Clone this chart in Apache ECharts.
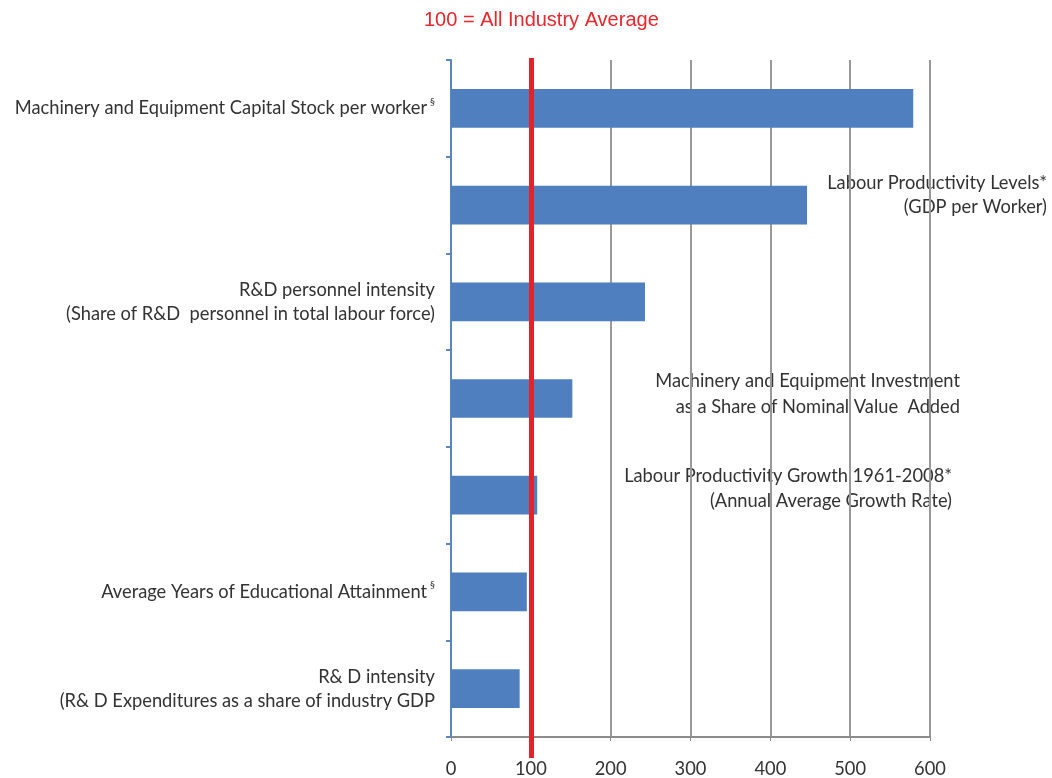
<!DOCTYPE html>
<html>
<head>
<meta charset="utf-8">
<script src="https://cdn.jsdelivr.net/npm/echarts@6/dist/echarts.min.js"></script>
<style>
  html, body { margin: 0; padding: 0; background: #fff; }
  #main { width: 1052px; height: 778px; }
</style>
</head>
<body>
<div id="main"></div>
<script>
const categories = [
  'Machinery and Equipment Capital Stock per worker',
  'Labour Productivity Levels',
  'R&D personnel intensity',
  'Machinery and Equipment Investment',
  'Labour Productivity Growth',
  'Average Years of Educational Attainment',
  'R&D intensity'
];
const values = [579, 446, 243, 152, 108, 95, 86];
const xTicks = [0, 100, 200, 300, 400, 500, 600];
const averageLine = 100;

// labels drawn left of the axis (empty = label sits inside the plot)
const leftLabels = [
  'Machinery and Equipment Capital Stock per worker{sup|§}',
  '',
  'R&D personnel intensity\n(Share of R&D  personnel in total labour force)',
  '',
  '',
  'Average Years of Educational Attainment{sup|§}',
  'R& D intensity\n(R& D Expenditures as a share of industry GDP'
];

const textFont = 'Lato';
const textColor = '#333';
const fs = 18.3;

const chart = echarts.init(document.getElementById('main'));

const options = {
  animation: false,
  title: {
    text: '100 = All Industry Average',
    left: 419,
    top: 5,
    textStyle: {
      color: '#e8262c',
      fontFamily: 'Liberation Sans',
      fontSize: 20,
      fontWeight: 'normal'
    }
  },
  grid: [
    { left: 451, right: 122, top: 60, bottom: 40 },
    { left: 451, right: 122, top: 58, bottom: 20 }
  ],
  xAxis: [
    {
      type: 'value',
      min: xTicks[0],
      max: xTicks[xTicks.length - 1],
      interval: 100,
      axisLine: { show: true, lineStyle: { color: '#8c8c8c', width: 2 } },
      axisTick: { show: true, length: 4, lineStyle: { color: '#8c8c8c' } },
      axisLabel: { color: textColor, fontFamily: textFont, fontSize: fs, margin: 23 },
      splitLine: { show: true, lineStyle: { color: '#999', width: 2 } }
    },
    {
      type: 'value', gridIndex: 1, show: false,
      min: xTicks[0], max: xTicks[xTicks.length - 1]
    }
  ],
  yAxis: [
    {
      type: 'category',
      inverse: true,
      data: categories,
      axisLine: { show: true, lineStyle: { color: '#5b87c0', width: 2 } },
      axisTick: { show: true, length: 5, lineStyle: { color: '#5b87c0', width: 2 } },
      axisLabel: {
        margin: 16,
        color: textColor,
        fontFamily: textFont,
        fontSize: fs,
        lineHeight: 24,
        align: 'right',
        formatter: (v, i) => leftLabels[i],
        rich: {
          sup: { fontSize: 10, fontFamily: textFont, verticalAlign: 'top', padding: [0, 0, 16, 3], color: textColor }
        }
      }
    },
    { type: 'category', gridIndex: 1, show: false, data: ['avg'] }
  ],
  graphic: [
    {
      type: 'text', x: 1047, y: 171,
      style: {
        text: 'Labour Productivity Levels*\n(GDP per Worker)',
        align: 'right', fill: textColor, font: fs + 'px Lato', lineHeight: 24
      }
    },
    {
      type: 'text', x: 960, y: 368,
      style: {
        text: 'Machinery and Equipment Investment\nas a Share of Nominal Value  Added',
        align: 'right', fill: textColor, font: fs + 'px Lato', lineHeight: 26
      }
    },
    {
      type: 'text', x: 952, y: 464,
      style: {
        text: 'Labour Productivity Growth 1961-2008*\n(Annual Average Growth Rate)',
        align: 'right', fill: textColor, font: fs + 'px Lato', lineHeight: 25
      }
    }
  ],
  series: [
    {
      type: 'bar',
      data: values,
      barCategoryGap: '60%',
      itemStyle: { color: '#4f7fbe' }
    },
    {
      type: 'bar',
      xAxisIndex: 1,
      yAxisIndex: 1,
      data: [],
      markLine: {
        silent: true,
        symbol: 'none',
        label: { show: false },
        lineStyle: { color: '#e3232a', width: 5, type: 'solid' },
        data: [{ xAxis: averageLine }]
      }
    }
  ]
};

chart.setOption(options);
</script>
</body>
</html>
